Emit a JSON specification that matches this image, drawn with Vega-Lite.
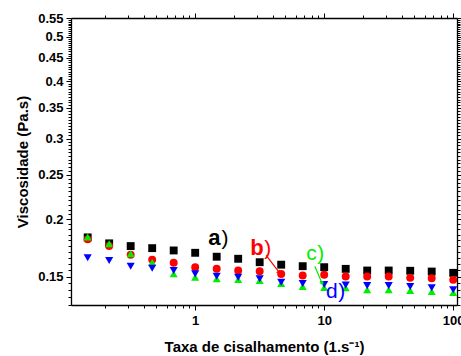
{
  "$schema": "https://vega.github.io/schema/vega-lite/v6.json",
  "autosize": "none",
  "width": 386,
  "height": 287,
  "padding": {"left": 71, "top": 18, "right": 4, "bottom": 51},
  "background": "white",
  "datasets": {
    "pts": [
      {"s":"a","x":0.1468,"y":0.1826},{"s":"a","x":0.2154,"y":0.1772},{"s":"a","x":0.3162,"y":0.1748},{"s":"a","x":0.4642,"y":0.1730},{"s":"a","x":0.6813,"y":0.1710},{"s":"a","x":1,"y":0.1690},{"s":"a","x":1.468,"y":0.1657},{"s":"a","x":2.154,"y":0.1640},{"s":"a","x":3.162,"y":0.1612},{"s":"a","x":4.642,"y":0.1592},{"s":"a","x":6.813,"y":0.1580},{"s":"a","x":10,"y":0.1572},{"s":"a","x":14.68,"y":0.1559},{"s":"a","x":21.54,"y":0.1546},{"s":"a","x":31.62,"y":0.1546},{"s":"a","x":46.42,"y":0.1544},{"s":"a","x":68.13,"y":0.1538},{"s":"a","x":100,"y":0.1528},
      {"s":"b","x":0.1468,"y":0.1808},{"s":"b","x":0.2154,"y":0.1748},{"s":"b","x":0.3162,"y":0.1673},{"s":"b","x":0.4642,"y":0.1633},{"s":"b","x":0.6813,"y":0.1607},{"s":"b","x":1,"y":0.1572},{"s":"b","x":1.468,"y":0.1559},{"s":"b","x":2.154,"y":0.1546},{"s":"b","x":3.162,"y":0.1541},{"s":"b","x":4.642,"y":0.1519},{"s":"b","x":6.813,"y":0.1508},{"s":"b","x":10,"y":0.1513},{"s":"b","x":14.68,"y":0.1500},{"s":"b","x":21.54,"y":0.1500},{"s":"b","x":31.62,"y":0.1500},{"s":"b","x":46.42,"y":0.1490},{"s":"b","x":68.13,"y":0.1487},{"s":"b","x":100,"y":0.1475},
      {"s":"c","x":0.1468,"y":0.1829},{"s":"c","x":0.2154,"y":0.1769},{"s":"c","x":0.3162,"y":0.1682},{"s":"c","x":0.4642,"y":0.1610},{"s":"c","x":0.6813,"y":0.1520},{"s":"c","x":1,"y":0.1495},{"s":"c","x":1.468,"y":0.1483},{"s":"c","x":2.154,"y":0.1477},{"s":"c","x":3.162,"y":0.1470},{"s":"c","x":4.642,"y":0.1448},{"s":"c","x":6.813,"y":0.1426},{"s":"c","x":10,"y":0.1419},{"s":"c","x":14.68,"y":0.1417},{"s":"c","x":21.54,"y":0.1403},{"s":"c","x":31.62,"y":0.1403},{"s":"c","x":46.42,"y":0.1398},{"s":"c","x":68.13,"y":0.1391},{"s":"c","x":100,"y":0.1384},
      {"s":"d","x":0.1468,"y":0.1648},{"s":"d","x":0.2154,"y":0.1626},{"s":"d","x":0.3162,"y":0.1580},{"s":"d","x":0.4642,"y":0.1564},{"s":"d","x":0.6813,"y":0.1546},{"s":"d","x":1,"y":0.1520},{"s":"d","x":1.468,"y":0.1502},{"s":"d","x":2.154,"y":0.1495},{"s":"d","x":3.162,"y":0.1483},{"s":"d","x":4.642,"y":0.1458},{"s":"d","x":6.813,"y":0.1448},{"s":"d","x":10,"y":0.1441},{"s":"d","x":14.68,"y":0.1437},{"s":"d","x":21.54,"y":0.1433},{"s":"d","x":31.62,"y":0.1433},{"s":"d","x":46.42,"y":0.1426},{"s":"d","x":68.13,"y":0.1417},{"s":"d","x":100,"y":0.1403}
    ],
    "notes": [
      {"s":"a","t":"a","x":1.261,"y":0.1760},
      {"s":"a","t":")","x":1.600,"y":0.1760},
      {"s":"b","t":"b","x":2.670,"y":0.1673},
      {"s":"b","t":")","x":3.427,"y":0.1673},
      {"s":"c","t":"c","x":7.253,"y":0.1626},
      {"s":"c","t":")","x":8.83,"y":0.1626},
      {"s":"d","t":"d","x":10.31,"y":0.1344},
      {"s":"d","t":")","x":12.84,"y":0.1344}
    ],
    "arrows": [
      {"s":"b","x":3.55,"y":0.1669,"x2":4.479,"y2":0.1531},
      {"s":"c","x":8.45,"y":0.1580,"x2":9.649,"y2":0.1448}
    ]
  },
  "resolve": {"axis": {"x": "independent", "y": "independent"}},
  "layer": [
    {
      "data": {"name": "pts"},
      "mark": {"type": "point", "filled": true, "opacity": 1},
      "encoding": {
        "x": {"field": "x", "type": "quantitative",
          "scale": {"type": "log", "domain": [0.109, 107], "nice": false},
          "axis": {"orient": "bottom", "grid": false,
            "values": [0.2,0.3,0.4,0.5,0.6,0.7,0.8,0.9,1,2,3,4,5,6,7,8,9,10,20,30,40,50,60,70,80,90,100],
            "labelExpr": "abs(log(datum.value)/LN10 - round(log(datum.value)/LN10)) < 0.001 ? format(datum.value, '~g') : ''",
            "tickSize": {"condition": {"test": "abs(log(datum.value)/LN10 - round(log(datum.value)/LN10)) < 0.001", "value": 5}, "value": 3},
            "labelOverlap": false, "labelFlush": false, "labelPadding": 4,
            "title": "Taxa de cisalhamento (1.s⁻¹)", "titlePadding": 12}},
        "y": {"field": "y", "type": "quantitative",
          "scale": {"type": "log", "domain": [0.13, 0.55], "nice": false},
          "axis": {"orient": "left", "grid": false,
            "values": [0.13,0.135,0.14,0.145,0.15,0.155,0.16,0.165,0.17,0.175,0.18,0.185,0.19,0.195,0.2,0.205,0.21,0.215,0.22,0.225,0.23,0.235,0.24,0.245,0.25,0.255,0.26,0.265,0.27,0.275,0.28,0.285,0.29,0.295,0.3,0.305,0.31,0.315,0.32,0.325,0.33,0.335,0.34,0.345,0.35,0.355,0.36,0.365,0.37,0.375,0.38,0.385,0.39,0.395,0.4,0.405,0.41,0.415,0.42,0.425,0.43,0.435,0.44,0.445,0.45,0.455,0.46,0.465,0.47,0.475,0.48,0.485,0.49,0.495,0.5,0.505,0.51,0.515,0.52,0.525,0.53,0.535,0.54,0.545,0.55],
            "labelExpr": "abs(datum.value*20 - round(datum.value*20)) < 0.001 ? format(round(datum.value*100)/100, '') : ''",
            "tickSize": {"condition": {"test": "abs(datum.value*20 - round(datum.value*20)) < 0.001", "value": 5}, "value": 3},
            "labelOverlap": false, "labelFlush": false, "labelPadding": 3,
            "title": "Viscosidade (Pa.s)", "titlePadding": 7}},
        "color": {"field": "s", "type": "nominal",
          "scale": {"domain": ["a","b","c","d"], "range": ["#000000","#ff0000","#00ee00","#0000ff"]}, "legend": null},
        "shape": {"field": "s", "type": "nominal",
          "scale": {"domain": ["a","b","c","d"], "range": ["square","circle","triangle-up","triangle-down"]}, "legend": null},
        "size": {"field": "s", "type": "nominal",
          "scale": {"domain": ["a","b","c","d"], "range": [62, 66, 90, 90]}, "legend": null}
      }
    },
    {
      "data": {"name": "arrows"},
      "mark": {"type": "rule", "strokeWidth": 1.2},
      "encoding": {
        "x": {"field": "x", "type": "quantitative",
          "scale": {"type": "log", "domain": [0.109, 107], "nice": false},
          "axis": {"orient": "top", "grid": false, "labels": false, "title": null,
            "values": [0.2,0.3,0.4,0.5,0.6,0.7,0.8,0.9,1,2,3,4,5,6,7,8,9,10,20,30,40,50,60,70,80,90,100],
            "tickSize": {"condition": {"test": "abs(log(datum.value)/LN10 - round(log(datum.value)/LN10)) < 0.001", "value": 5}, "value": 3}}},
        "x2": {"field": "x2"},
        "y": {"field": "y", "type": "quantitative",
          "scale": {"type": "log", "domain": [0.13, 0.55], "nice": false},
          "axis": {"orient": "right", "grid": false, "labels": false, "title": null,
            "values": [0.13,0.135,0.14,0.145,0.15,0.155,0.16,0.165,0.17,0.175,0.18,0.185,0.19,0.195,0.2,0.205,0.21,0.215,0.22,0.225,0.23,0.235,0.24,0.245,0.25,0.255,0.26,0.265,0.27,0.275,0.28,0.285,0.29,0.295,0.3,0.305,0.31,0.315,0.32,0.325,0.33,0.335,0.34,0.345,0.35,0.355,0.36,0.365,0.37,0.375,0.38,0.385,0.39,0.395,0.4,0.405,0.41,0.415,0.42,0.425,0.43,0.435,0.44,0.445,0.45,0.455,0.46,0.465,0.47,0.475,0.48,0.485,0.49,0.495,0.5,0.505,0.51,0.515,0.52,0.525,0.53,0.535,0.54,0.545,0.55],
            "tickSize": {"condition": {"test": "abs(datum.value*20 - round(datum.value*20)) < 0.001", "value": 5}, "value": 3}}},
        "y2": {"field": "y2"},
        "color": {"field": "s", "type": "nominal",
          "scale": {"domain": ["a","b","c","d"], "range": ["#000000","#ff0000","#00ee00","#0000ff"]}, "legend": null}
      }
    },
    {
      "data": {"name": "arrows"},
      "transform": [{"filter": "datum.s == 'b'"}],
      "mark": {"type": "point", "shape": "triangle-up", "filled": true, "opacity": 1, "size": 22, "angle": 140},
      "encoding": {
        "x": {"field": "x2", "type": "quantitative", "scale": {"type": "log", "domain": [0.109, 107], "nice": false}, "axis": null},
        "y": {"field": "y2", "type": "quantitative", "scale": {"type": "log", "domain": [0.13, 0.55], "nice": false}, "axis": null},
        "color": {"field": "s", "type": "nominal", "scale": {"domain": ["a","b","c","d"], "range": ["#000000","#ff0000","#00ee00","#0000ff"]}, "legend": null}
      }
    },
    {
      "data": {"name": "arrows"},
      "transform": [{"filter": "datum.s == 'c'"}],
      "mark": {"type": "point", "shape": "triangle-up", "filled": true, "opacity": 1, "size": 22, "angle": 155},
      "encoding": {
        "x": {"field": "x2", "type": "quantitative", "scale": {"type": "log", "domain": [0.109, 107], "nice": false}, "axis": null},
        "y": {"field": "y2", "type": "quantitative", "scale": {"type": "log", "domain": [0.13, 0.55], "nice": false}, "axis": null},
        "color": {"field": "s", "type": "nominal", "scale": {"domain": ["a","b","c","d"], "range": ["#000000","#ff0000","#00ee00","#0000ff"]}, "legend": null}
      }
    },
    {
      "data": {"name": "notes"},
      "transform": [{"filter": "datum.t == 'a' || datum.t == 'b'"}],
      "mark": {"type": "text", "font": "Liberation Sans", "fontSize": 22, "fontWeight": "bold", "align": "left", "baseline": "alphabetic"},
      "encoding": {
        "x": {"field": "x", "type": "quantitative", "scale": {"type": "log", "domain": [0.109, 107], "nice": false}, "axis": null},
        "y": {"field": "y", "type": "quantitative", "scale": {"type": "log", "domain": [0.13, 0.55], "nice": false}, "axis": null},
        "text": {"field": "t"},
        "color": {"field": "s", "type": "nominal", "scale": {"domain": ["a","b","c","d"], "range": ["#000000","#ff0000","#00ee00","#0000ff"]}, "legend": null}
      }
    },
    {
      "data": {"name": "notes"},
      "transform": [{"filter": "datum.t != 'a' && datum.t != 'b'"}],
      "mark": {"type": "text", "font": "Liberation Sans", "fontSize": 21, "align": "left", "baseline": "alphabetic"},
      "encoding": {
        "x": {"field": "x", "type": "quantitative", "scale": {"type": "log", "domain": [0.109, 107], "nice": false}, "axis": null},
        "y": {"field": "y", "type": "quantitative", "scale": {"type": "log", "domain": [0.13, 0.55], "nice": false}, "axis": null},
        "text": {"field": "t"},
        "color": {"field": "s", "type": "nominal", "scale": {"domain": ["a","b","c","d"], "range": ["#000000","#ff0000","#00ee00","#0000ff"]}, "legend": null}
      }
    }
  ],
  "config": {
    "view": {"stroke": null},
    "axis": {
      "domainColor": "#000000", "domainWidth": 1.3, "tickColor": "#000000", "tickWidth": 1,
      "labelColor": "#000000", "titleColor": "#000000",
      "labelFont": "Liberation Sans", "titleFont": "Liberation Sans",
      "labelFontWeight": "bold", "titleFontWeight": "bold",
      "labelFontSize": 13, "titleFontSize": 15, "grid": false
    }
  }
}
